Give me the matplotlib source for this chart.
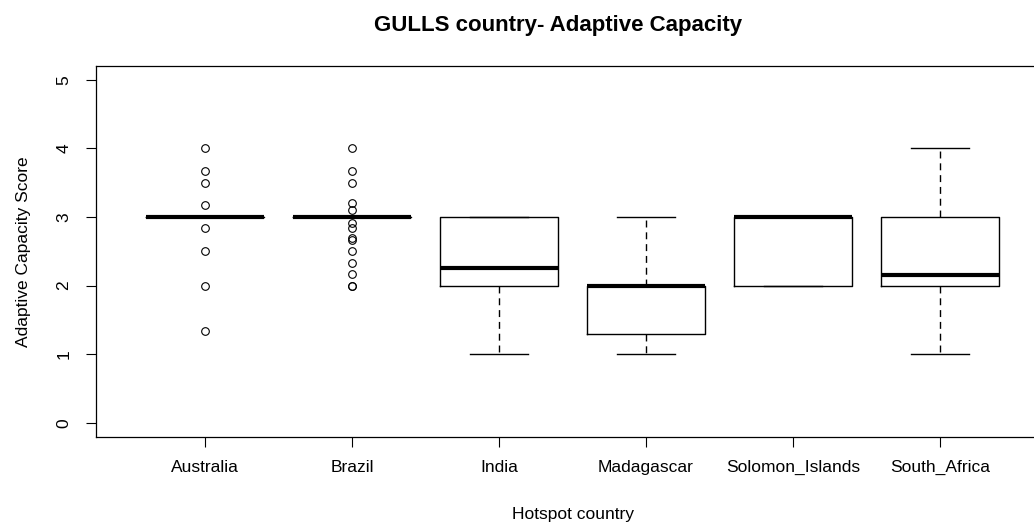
import matplotlib
matplotlib.use('Agg')
import matplotlib.pyplot as plt

# Daten
countries = ['Australia', 'Brazil', 'India', 'Madagascar', 'Solomon_Islands', 'South_Africa']
q1 = [3.0, 3.0, 2.0, 1.29, 2.0, 2.0]
medians = [3.0, 3.0, 2.26, 2.0, 3.0, 2.15]
q3 = [3.0, 3.0, 3.0, 2.0, 3.0, 3.0]
whis_lo = [3.0, 3.0, 1.0, 1.0, 2.0, 1.0]
whis_hi = [3.0, 3.0, 3.0, 3.0, 3.0, 4.0]
outliers_australia = [4.0, 3.667, 3.5, 3.167, 2.833, 2.5, 2.0, 1.333]
outliers_brazil = [4.0, 3.667, 3.5, 3.2, 3.1, 2.917, 2.833, 2.7, 2.667, 2.5, 2.333, 2.167, 2.0, 2.0]
fliers = [outliers_australia, outliers_brazil, [], [], [], []]

plt.rcParams['font.family'] = ['Liberation Sans', 'DejaVu Sans']

stats = []
for i, name in enumerate(countries):
    stats.append({
        'label': name,
        'q1': q1[i],
        'med': medians[i],
        'q3': q3[i],
        'whislo': whis_lo[i],
        'whishi': whis_hi[i],
        'fliers': fliers[i],
    })

fig = plt.figure(figsize=(10.34, 5.23), dpi=100)
ax = fig.add_axes([0.093, 0.165, 0.9214, 0.709])

ax.bxp(
    stats,
    positions=range(1, len(countries) + 1),
    widths=0.8,
    patch_artist=False,
    boxprops=dict(color='black', linewidth=1.0),
    medianprops=dict(color='black', linewidth=3.0, solid_capstyle='butt'),
    whiskerprops=dict(color='black', linewidth=1.0, linestyle=(0, (5, 3.5))),
    capprops=dict(color='black', linewidth=1.0),
    capwidths=0.4,
    flierprops=dict(marker='o', markersize=5.5, markerfacecolor='none',
                    markeredgecolor='black', markeredgewidth=0.8),
)

ax.set_xlim(0.26, 6.74)
ax.set_ylim(-0.2, 5.2)
ax.set_yticks([0, 1, 2, 3, 4, 5])
ax.set_yticklabels(['0', '1', '2', '3', '4', '5'], rotation=90, va='center')
ax.set_xticks(range(1, len(countries) + 1))
ax.set_xticklabels(countries)
ax.tick_params(axis='both', length=7, width=0.8, labelsize=12.5, colors='black')
ax.tick_params(axis='y', pad=11)
ax.tick_params(axis='x', pad=10)
for s in ax.spines.values():
    s.set_linewidth(0.9)
    s.set_color('black')

ax.set_xlabel('Hotspot country', fontsize=12.5, labelpad=23)
ax.set_ylabel('Adaptive Capacity Score', fontsize=12.5, labelpad=18)
fig.text(0.54, 0.952, 'GULLS country- Adaptive Capacity', fontsize=16,
         fontweight='bold', ha='center', va='center')

fig.savefig('out.png', dpi=100)
